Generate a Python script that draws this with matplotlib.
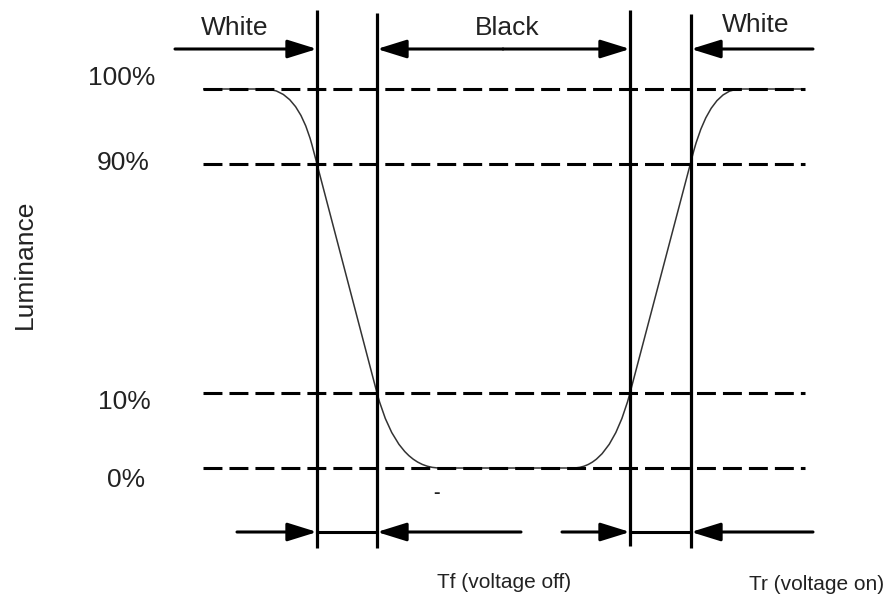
import matplotlib
matplotlib.use("Agg")
import matplotlib.pyplot as plt
from matplotlib.path import Path
from matplotlib.patches import PathPatch

plt.rcParams['font.family'] = ['Liberation Sans', 'DejaVu Sans']

# schematic coordinates (diagram units, y grows downward)
level_names = ["100%", "90%", "10%", "0%"]
level_y = [89, 164, 393, 468]
label_x = [122, 123, 124, 126]
label_y = [78, 163, 402, 480]
dash_span = [203, 805]

# time markers: white->fall start, fall end, rise start, rise end
mark_x = [317, 377, 630, 691]
mark_top = [10, 13, 10, 14]
mark_bottom = [548, 548, 546, 548]

# luminance response (quadratic bezier control points)
curve_pts = [
    (203, 89), (265, 89), (265, 89), (297, 89), (312, 145),
    (377, 393), (397, 468), (440, 468),
    (573, 468), (610, 468), (630, 393),
    (694, 150), (711, 89), (740, 89),
    (805, 89),
]
curve_codes = [
    Path.MOVETO, Path.LINETO, Path.LINETO, Path.CURVE3, Path.CURVE3,
    Path.LINETO, Path.CURVE3, Path.CURVE3,
    Path.LINETO, Path.CURVE3, Path.CURVE3,
    Path.LINETO, Path.CURVE3, Path.CURVE3,
    Path.LINETO,
]

# top arrows: (tail, head), y
top_y = 49
top_arrows = [(175, 317), (813, 691), (503, 377), (503, 630)]
top_texts = [("White", 235, 28), ("Black", 507, 28), ("White", 756, 25)]

# bottom arrows
bot_y = 532
bot_arrows = [(237, 317), (521, 377), (562, 630), (813, 691)]
bot_segments = [(317, 377), (630, 691)]
bot_texts = [("Tf (voltage off)", 504, 582), ("Tr (voltage on)", 817, 584)]

fig = plt.figure(figsize=(8.89, 5.96), dpi=100)
ax = fig.add_axes([0, 0, 1, 1])
ax.set_xlim(0, 889)
ax.set_ylim(596, 0)
ax.axis("off")

# dashed luminance levels
for y in level_y:
    ax.plot(dash_span, [y, y], color="black", lw=2.2,
            linestyle=(0, (6.2, 2.3)), solid_capstyle="butt")

for name, x, y in zip(level_names, label_x, label_y):
    ax.text(x, y, name, ha="center", va="center", fontsize=19, color="#222222")

ax.text(25, 264, "Luminance", rotation=90, ha="center", va="center",
        fontsize=19, color="#222222")

# vertical markers
for x, t, b in zip(mark_x, mark_top, mark_bottom):
    ax.plot([x, x], [t, b], color="black", lw=2.3, solid_capstyle="butt")

# response curve
ax.add_patch(PathPatch(Path(curve_pts, curve_codes), fill=False,
                       edgecolor="#333333", lw=1.1))

arrow_kw = dict(arrowstyle="-|>,head_length=0.9,head_width=0.28",
                mutation_scale=20, lw=2.2, color="black",
                shrinkA=0, shrinkB=0)

for tail, head in top_arrows:
    ax.annotate("", xy=(head, top_y), xytext=(tail, top_y), arrowprops=arrow_kw)
for s, x, y in top_texts:
    ax.text(x, y, s, ha="center", va="center", fontsize=19, color="#222222")

for tail, head in bot_arrows:
    ax.annotate("", xy=(head, bot_y), xytext=(tail, bot_y), arrowprops=arrow_kw)
for a, b in bot_segments:
    ax.plot([a, b], [bot_y, bot_y], color="black", lw=2.2)
for s, x, y in bot_texts:
    ax.text(x, y, s, ha="center", va="center", fontsize=15, color="#222222")

ax.text(436, 493, "-", ha="center", va="center", fontsize=14,
        fontweight="bold", color="#222222")

fig.savefig("out.png", dpi=100)
